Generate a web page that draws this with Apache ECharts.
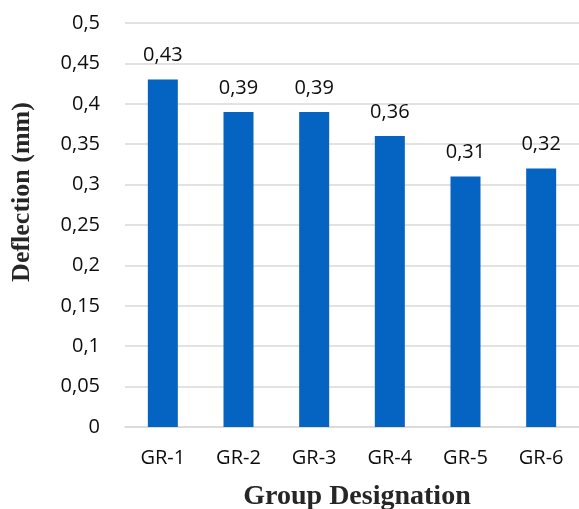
<!DOCTYPE html>
<html>
<head>
<meta charset="utf-8">
<script src="https://cdn.jsdelivr.net/npm/echarts@6/dist/echarts.min.js"></script>
<style>
  html, body { margin: 0; padding: 0; background: #fff; }
  #chart { width: 579px; height: 509px; }
</style>
</head>
<body>
<div id="chart"></div>
<script>
// Mid-span deflection per specimen group
var groups = ['GR-1', 'GR-2', 'GR-3', 'GR-4', 'GR-5', 'GR-6'];
var deflection = [0.43, 0.39, 0.39, 0.36, 0.31, 0.32];
var yTitle = 'Deflection (mm)';
var xTitle = 'Group Designation';

// Decimal comma formatting
function comma(v) {
  return String(+v.toFixed(2)).replace('.', ',');
}

var labelFont = '"Open Sans", "Noto Sans", sans-serif';
var titleFont = '"Liberation Serif", "Times New Roman", serif';
var ink = '#0d0d0d';

var chart = echarts.init(document.getElementById('chart'), null, { renderer: 'canvas' });
chart.setOption({
  animation: false,
  backgroundColor: '#ffffff',
  grid: { left: 125, top: 23, width: 458, height: 404, containLabel: false },
  xAxis: {
    type: 'category',
    data: groups,
    axisLine: { show: true, lineStyle: { color: '#d9d9d9', width: 1.5 } },
    axisTick: { show: false },
    axisLabel: { color: ink, fontFamily: labelFont, fontSize: 20, margin: 21 }
  },
  yAxis: {
    type: 'value',
    min: 0,
    max: 0.5,
    interval: 0.05,
    axisLine: { show: false },
    axisTick: { show: false },
    splitLine: { lineStyle: { color: '#d9d9d9', width: 1.5 } },
    axisLabel: {
      color: ink, fontFamily: labelFont, fontSize: 20, margin: 25,
      formatter: function (v) { return comma(v); }
    }
  },
  series: [{
    type: 'bar',
    data: deflection,
    barWidth: 30,
    itemStyle: { color: '#0563c1' },
    label: {
      show: true,
      position: 'top',
      distance: 14,
      color: ink,
      fontFamily: labelFont,
      fontSize: 20,
      formatter: function (p) { return comma(p.value); }
    }
  }],
  graphic: [
    {
      type: 'text',
      x: 22, y: 192,
      rotation: Math.PI / 2,
      style: {
        text: yTitle,
        font: 'bold 26px ' + titleFont,
        fill: '#262626',
        textAlign: 'center',
        textVerticalAlign: 'middle'
      }
    },
    {
      type: 'text',
      x: 357, y: 497,
      style: {
        text: xTitle,
        font: 'bold 28px ' + titleFont,
        fill: '#262626',
        textAlign: 'center',
        textVerticalAlign: 'middle'
      }
    }
  ]
});
</script>
</body>
</html>
